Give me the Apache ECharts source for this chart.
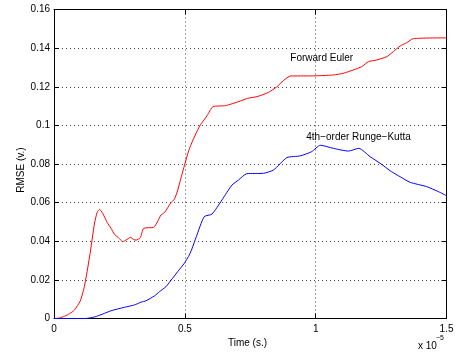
<!DOCTYPE html>
<html>
<head>
<meta charset="utf-8">
<script src="https://cdn.jsdelivr.net/npm/echarts@6/dist/echarts.min.js"></script>
<style>html,body{margin:0;padding:0;background:#fff;}#c{width:460px;height:354px;}</style>
</head>
<body>
<div id="c"></div>
<script>
// time in units of 1e-5 s, RMSE in volts
var eulerData = [[0,0],[0.02,0.0002],[0.04,0.0012],[0.06,0.0025],[0.078,0.0044],[0.10,0.009],[0.116,0.0165],[0.136,0.032],[0.155,0.0494],[0.165,0.055],[0.174,0.0565],[0.186,0.0545],[0.203,0.0498],[0.218,0.0467],[0.231,0.0436],[0.245,0.042],[0.263,0.0398],[0.275,0.0406],[0.292,0.042],[0.305,0.0408],[0.314,0.0406],[0.330,0.0419],[0.343,0.0467],[0.381,0.0472],[0.395,0.050],[0.409,0.0536],[0.422,0.0548],[0.447,0.060],[0.460,0.0617],[0.473,0.0665],[0.483,0.0716],[0.500,0.0800],[0.515,0.0870],[0.531,0.0924],[0.557,0.0997],[0.585,0.105],[0.608,0.1097],[0.655,0.1102],[0.712,0.1126],[0.740,0.114],[0.776,0.1149],[0.820,0.1171],[0.852,0.120],[0.877,0.1232],[0.905,0.1256],[0.979,0.1256],[1.068,0.1261],[1.106,0.127],[1.144,0.1287],[1.176,0.1304],[1.202,0.133],[1.234,0.1339],[1.272,0.1356],[1.297,0.1382],[1.323,0.1411],[1.348,0.1428],[1.373,0.1449],[1.5,0.1453]];
var rk4Data = [[0,0],[0.12,0],[0.155,0.0008],[0.186,0.0023],[0.218,0.004],[0.269,0.0058],[0.307,0.007],[0.333,0.0085],[0.352,0.0092],[0.384,0.0117],[0.403,0.0139],[0.428,0.0165],[0.453,0.0208],[0.473,0.0243],[0.498,0.0286],[0.517,0.0329],[0.527,0.0360],[0.544,0.0424],[0.574,0.0527],[0.604,0.0541],[0.642,0.0614],[0.680,0.0691],[0.705,0.0717],[0.737,0.0750],[0.801,0.0752],[0.839,0.0769],[0.890,0.0833],[0.941,0.0842],[0.985,0.0864],[1.018,0.0897],[1.068,0.0881],[1.125,0.0867],[1.165,0.0881],[1.208,0.0838],[1.246,0.0804],[1.290,0.0760],[1.323,0.0734],[1.361,0.0705],[1.424,0.0683],[1.469,0.0657],[1.5,0.0636]];
var seriesNames = ['Forward Euler', '4th\u2212order Runge\u2212Kutta'];
var annoPos = [[0.903, 0.1349], [0.964, 0.094]];
var xTitle = 'Time (s.)';
var yTitle = 'RMSE (v.)';
var xExp = '\u22125';

var FONT = 'Liberation Sans, Arial, sans-serif';
var chart = echarts.init(document.getElementById('c'), null, {renderer: 'canvas'});
function anno(i) {
  return {
    silent: true, symbol: 'circle', symbolSize: 0,
    data: [{coord: annoPos[i], value: seriesNames[i]}],
    label: {show: true, position: 'right', distance: 0, formatter: seriesNames[i], color: '#000', fontSize: 10, fontFamily: FONT}
  };
}
var axisCommon = {
  axisLine: {show: true, onZero: false, lineStyle: {color: '#000', width: 1}},
  axisTick: {show: true, inside: true, length: 5, lineStyle: {color: '#000'}}
};
var gridLine = {show: true, lineStyle: {color: '#444', type: [1, 3], width: 1}};
chart.setOption({
  animation: false,
  grid: {left: 54, right: 13.5, top: 9.5, bottom: 35.5, containLabel: false},
  xAxis: [
    Object.assign({type: 'value', min: 0, max: 1.5, interval: 0.5, position: 'bottom',
      axisLabel: {color: '#000', fontSize: 10, fontFamily: FONT, margin: 6},
      splitLine: gridLine}, axisCommon),
    Object.assign({type: 'value', min: 0, max: 1.5, interval: 0.5, position: 'top',
      axisLabel: {show: false}, splitLine: {show: false}}, axisCommon)
  ],
  yAxis: [
    Object.assign({type: 'value', min: 0, max: 0.16, interval: 0.02, position: 'left',
      axisLabel: {color: '#000', fontSize: 10, fontFamily: FONT, margin: 4},
      splitLine: gridLine}, axisCommon),
    Object.assign({type: 'value', min: 0, max: 0.16, interval: 0.02, position: 'right',
      axisLabel: {show: false}, splitLine: {show: false}}, axisCommon)
  ],
  series: [
    {type: 'line', name: seriesNames[0], data: eulerData, showSymbol: false, smooth: 0.2,
      lineStyle: {color: '#ff0000', width: 1}, itemStyle: {color: '#ff0000'}, markPoint: anno(0)},
    {type: 'line', name: seriesNames[1], data: rk4Data, showSymbol: false, smooth: 0.2,
      lineStyle: {color: '#0000ff', width: 1}, itemStyle: {color: '#0000ff'}, markPoint: anno(1)}
  ],
  graphic: [
    {type: 'text', x: 247.5, y: 343, style: {text: xTitle, fill: '#000', font: '10px ' + FONT, textAlign: 'center', textVerticalAlign: 'middle'}},
    {type: 'text', x: 21, y: 170, rotation: Math.PI / 2, style: {text: yTitle, fill: '#000', font: '10px ' + FONT, textAlign: 'center', textVerticalAlign: 'middle'}},
    {type: 'text', x: 418, y: 346, style: {text: 'x 10', fill: '#000', font: '10px ' + FONT, textAlign: 'left', textVerticalAlign: 'middle'}},
    {type: 'text', x: 436, y: 338.5, style: {text: xExp, fill: '#000', font: '7px ' + FONT, textAlign: 'left', textVerticalAlign: 'middle'}}
  ]
});
</script>
</body>
</html>
